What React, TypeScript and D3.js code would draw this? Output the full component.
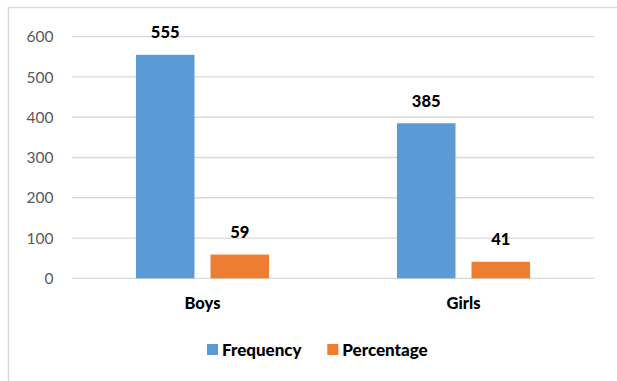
import { useEffect, useRef } from 'react';
import * as d3 from 'd3';

const categories = ['Boys', 'Girls'];
const seriesNames = ['Frequency', 'Percentage'];
const frequency = [555, 385];
const percentage = [59, 41];
const yTicks = [0, 100, 200, 300, 400, 500, 600];

const COLORS = ['#5B9BD5', '#ED7D31'];
const WIDTH = 617;
const HEIGHT = 381;
const FONT = 'Lato, "Open Sans", sans-serif';

export default function App() {
  const svgRef = useRef<SVGSVGElement>(null);

  useEffect(() => {
    if (!svgRef.current) return;
    const svg = d3.select(svgRef.current);
    svg.selectAll('*').remove();

    const plot = { left: 72, right: 594, top: 36.7, bottom: 278.3 };

    svg.append('rect')
      .attr('x', 0).attr('y', 0)
      .attr('width', WIDTH).attr('height', HEIGHT)
      .attr('fill', '#fff');

    // chart frame (only top and left visible in crop)
    svg.append('path')
      .attr('d', `M8.5,${HEIGHT + 2} V7.5 H${WIDTH + 2}`)
      .attr('fill', 'none')
      .attr('stroke', '#D9D9D9')
      .attr('stroke-width', 1.5);

    const y = d3.scaleLinear().domain([0, 600]).range([plot.bottom, plot.top]);
    const x0 = d3.scaleBand<string>().domain(categories).range([plot.left, plot.right]);
    const groupWidth = x0.bandwidth() * 0.51;
    const x1 = d3.scaleBand<string>()
      .domain(seriesNames)
      .range([0, groupWidth])
      .paddingInner(0.215);
    const groupOffset = (x0.bandwidth() - groupWidth) / 2;

    // gridlines
    svg.append('g')
      .selectAll('line')
      .data(yTicks)
      .enter()
      .append('line')
      .attr('x1', plot.left)
      .attr('x2', plot.right)
      .attr('y1', d => y(d))
      .attr('y2', d => y(d))
      .attr('stroke', '#D9D9D9')
      .attr('stroke-width', 1.3);

    // y tick labels
    svg.append('g')
      .selectAll('text')
      .data(yTicks)
      .enter()
      .append('text')
      .attr('x', 53.5)
      .attr('y', d => y(d))
      .attr('dy', '0.36em')
      .attr('text-anchor', 'end')
      .attr('fill', '#595959')
      .style('font-family', FONT)
      .style('font-size', '15.5px')
      .text(d => d);

    const rows = categories.map((c, i) => ({
      category: c,
      values: [
        { key: seriesNames[0], value: frequency[i] },
        { key: seriesNames[1], value: percentage[i] },
      ],
    }));

    const groups = svg.append('g')
      .selectAll('g')
      .data(rows)
      .enter()
      .append('g')
      .attr('transform', d => `translate(${(x0(d.category) ?? 0) + groupOffset},0)`);

    groups.selectAll('rect')
      .data(d => d.values)
      .enter()
      .append('rect')
      .attr('x', d => x1(d.key) ?? 0)
      .attr('y', d => y(d.value))
      .attr('width', x1.bandwidth())
      .attr('height', d => plot.bottom - y(d.value))
      .attr('fill', (_, i) => COLORS[i]);

    groups.selectAll('text')
      .data(d => d.values)
      .enter()
      .append('text')
      .attr('x', d => (x1(d.key) ?? 0) + x1.bandwidth() / 2)
      .attr('y', d => y(d.value) - 16.5)
      .attr('text-anchor', 'middle')
      .attr('fill', '#000')
      .style('font-family', FONT)
      .style('font-size', '16.5px')
      .style('font-weight', 900)
      .text(d => d.value);

    // category labels
    svg.append('g')
      .selectAll('text')
      .data(categories)
      .enter()
      .append('text')
      .attr('x', d => (x0(d) ?? 0) + x0.bandwidth() / 2)
      .attr('y', 309)
      .attr('text-anchor', 'middle')
      .attr('fill', '#000')
      .style('font-family', FONT)
      .style('font-size', '16.5px')
      .style('font-weight', 900)
      .text(d => d);

    // legend
    const legendItems = [
      { name: seriesNames[0], x: 207 },
      { name: seriesNames[1], x: 327.3 },
    ];
    const legend = svg.append('g')
      .selectAll('g')
      .data(legendItems)
      .enter()
      .append('g')
      .attr('transform', d => `translate(${d.x},344)`);
    legend.append('rect')
      .attr('width', 11)
      .attr('height', 11)
      .attr('fill', (_, i) => COLORS[i]);
    legend.append('text')
      .attr('x', 15)
      .attr('y', 11.5)
      .attr('fill', '#000')
      .style('font-family', FONT)
      .style('font-size', '17px')
      .style('font-weight', 900)
      .text(d => d.name);
  }, []);

  return (
    <svg
      ref={svgRef}
      width={WIDTH}
      height={HEIGHT}
      style={{ position: 'absolute', left: 0, top: 0 }}
    />
  );
}
